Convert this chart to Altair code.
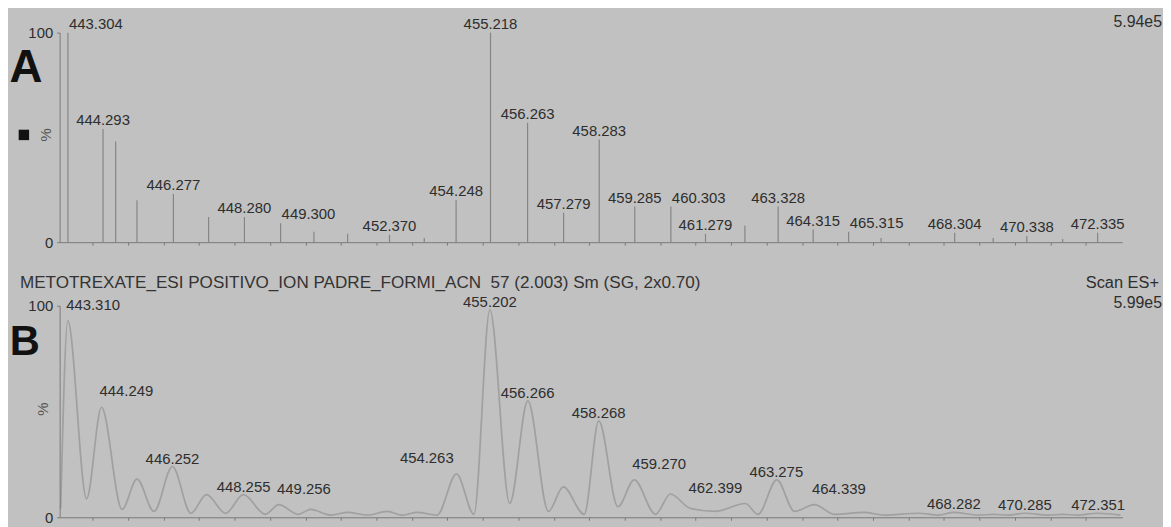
import altair as alt
import pandas as pd

# ---------------- data ----------------
# Panel A: centroid stick spectrum (m/z, relative intensity %)
a_mz = [443.304, 444.293, 444.65, 445.25, 446.277, 447.27, 448.280, 449.300, 450.24,
        451.19, 452.370, 453.35, 454.248, 455.218, 456.263, 457.279, 458.283, 459.285,
        460.303, 461.279, 462.39, 463.328, 464.315, 465.315, 466.23, 468.304, 469.39,
        470.338, 471.35, 472.335]
a_int = [100, 54, 48, 20, 23, 12, 12, 9, 5,
         4, 3.5, 2, 20, 100, 57, 14, 49, 17,
         17, 4, 8, 17, 6, 5, 2, 4.5, 2,
         3, 1.5, 4.5]
a_labels = ["443.304", "444.293", "", "", "446.277", "", "448.280", "449.300", "",
            "", "452.370", "", "454.248", "455.218", "456.263", "457.279", "458.283", "459.285",
            "460.303", "461.279", "", "463.328", "464.315", "465.315", "", "468.304", "",
            "470.338", "", "472.335"]
a_labels_right_of_peak = ["443.304", "449.300", "460.303", "465.315"]

# Panel B: smoothed profile spectrum (vertices read at peaks and valleys)
b_mz = [443.10, 443.30, 443.83, 444.25, 444.83, 445.25, 445.73, 446.25, 446.77, 447.21,
        447.75, 448.25, 448.87, 449.25, 449.79, 450.15, 450.71, 451.19, 451.75, 452.31,
        452.73, 453.15, 453.71, 454.26, 454.75, 455.20, 455.76, 456.27, 456.85, 457.27,
        457.86, 458.27, 458.81, 459.27, 459.87, 460.29, 460.85, 461.55, 462.40, 462.76,
        463.29, 463.79, 464.35, 464.91, 465.75, 466.31, 467.29, 467.85, 468.27, 468.97,
        469.39, 469.81, 470.29, 470.93, 471.35, 471.77, 472.33, 472.98]
b_int = [4, 93, 8.8, 52, 3.7, 18, 2.8, 24, 1.9, 10.7,
         1.9, 10.7, 1.4, 6, 1.4, 3.7, 1, 2.3, 1, 2.8,
         1, 2.3, 1, 20.5, 1.4, 98, 6.5, 55, 2.8, 14.4,
         1.4, 45.6, 5, 17.7, 1.4, 11, 4.2, 2.8, 6.5, 1.4,
         17.7, 2.8, 6, 1.4, 2.3, 1, 1.9, 1, 2.3, 1,
         1.4, 1, 1.9, 1, 1.4, 1, 1.9, 1]
b_label_mz = [443.310, 444.249, 446.252, 448.255, 449.256, 454.263, 455.202, 456.266,
              458.268, 459.270, 462.399, 463.275, 464.339, 468.282, 470.285, 472.351]
b_label_int = [93, 52, 24, 10.7, 6, 20.5, 98, 55,
               45.6, 17.7, 6.5, 17.7, 6, 2.3, 1.9, 1.9]
b_labels_right_of_peak = ["443.310", "444.249", "449.256", "459.270", "464.339"]
b_labels_left_of_peak = ["454.263", "462.399"]

y_ticks = [0, 100]
x_ticks = list(range(444, 473))
x_domain = [443.07, 473.03]

title_b = "METOTREXATE_ESI POSITIVO_ION PADRE_FORMI_ACN\u00a0\u00a057 (2.003) Sm (SG, 2x0.70)"

# ---------------- styling ----------------
BG = "#c1c1c1"
TXT = "#2e2e2e"
AX = "#7a7a7a"
STICK = "#858585"
CURVE = "#a0a0a0"
FONT = "Liberation Sans"
W = 1070
HA = 211
HB = 213
GAP = 64

xs = alt.Scale(domain=x_domain, nice=False, zero=False)
ys = alt.Scale(domain=[0, 100], nice=False)
xaxis = alt.Axis(values=x_ticks, labels=False, title=None, tickSize=3, tickColor=AX,
                 domainColor=AX, grid=False, zindex=1)
yaxis = alt.Axis(values=y_ticks, title=None, tickSize=3, tickColor=AX, domainColor=AX,
                 grid=False, labelFontSize=15, labelColor=TXT, labelFont=FONT,
                 labelPadding=4, zindex=1)

one = pd.DataFrame({"k": [0]})


def note(text, x, y, size, align="left", angle=0, weight="normal", color=TXT):
    return alt.Chart(one).mark_text(
        text=text, fontSize=size, align=align, baseline="middle", font=FONT,
        color=color, angle=angle, fontWeight=weight
    ).encode(x=alt.value(x), y=alt.value(y))


def pin(y0, y1):
    return alt.Chart(one).mark_rect(color=BG, opacity=0).encode(
        x=alt.value(-52), x2=alt.value(1111), y=alt.value(y0), y2=alt.value(y1))


# ---------------- panel A ----------------
dfa = pd.DataFrame({"mz": a_mz, "int": a_int, "lab": a_labels})
dfa_lab = dfa[dfa["lab"] != ""]
dfa_c = dfa_lab[~dfa_lab["lab"].isin(a_labels_right_of_peak)]
dfa_r = dfa_lab[dfa_lab["lab"].isin(a_labels_right_of_peak)]

X = alt.X("mz:Q", scale=xs, axis=xaxis)
Y = alt.Y("int:Q", scale=ys, axis=yaxis)

sticks = alt.Chart(dfa).mark_rule(color=STICK, strokeWidth=1.2).encode(
    x=X, y=Y, y2=alt.datum(0))
lab_a_c = alt.Chart(dfa_c).mark_text(
    fontSize=15, font=FONT, color=TXT, align="center", baseline="alphabetic", dy=-4
).encode(x=X, y=Y, text="lab:N")
lab_a_r = alt.Chart(dfa_r).mark_text(
    fontSize=15, font=FONT, color=TXT, align="left", baseline="alphabetic", dy=-4, dx=1
).encode(x=X, y=Y, text="lab:N")
square = alt.Chart(one).mark_square(size=110, color="#111111", opacity=1).encode(
    x=alt.value(-36), y=alt.value(103))

panel_a = alt.layer(
    pin(-23, HA + 30),
    sticks, lab_a_c, lab_a_r,
    note("A", -34, 36, 46, align="center", weight="bold", color="#111111"),
    note("%", -14, 103, 15, align="center", angle=270, color="#555555"),
    square,
    note("5.94e5", 1110, -11, 16, align="right"),
).properties(width=W, height=HA)

# ---------------- panel B ----------------
dfb = pd.DataFrame({"mz": b_mz, "int": b_int})
dfb_lab = pd.DataFrame({"mz": b_label_mz, "int": b_label_int,
                        "lab": [f"{v:.3f}" for v in b_label_mz]})
dfb_c = dfb_lab[~dfb_lab["lab"].isin(b_labels_right_of_peak + b_labels_left_of_peak)]
dfb_r = dfb_lab[dfb_lab["lab"].isin(b_labels_right_of_peak)]
dfb_l = dfb_lab[dfb_lab["lab"].isin(b_labels_left_of_peak)]

curve = alt.Chart(dfb).mark_line(color=CURVE, strokeWidth=1.7, interpolate="monotone").encode(
    x=X, y=Y)
lab_b_c = alt.Chart(dfb_c).mark_text(
    fontSize=15, font=FONT, color=TXT, align="center", baseline="alphabetic", dy=-3
).encode(x=X, y=Y, text="lab:N")
lab_b_r = alt.Chart(dfb_r).mark_text(
    fontSize=15, font=FONT, color=TXT, align="left", baseline="alphabetic", dy=-11, dx=-2
).encode(x=X, y=Y, text="lab:N")
lab_b_l = alt.Chart(dfb_l).mark_text(
    fontSize=15, font=FONT, color=TXT, align="right", baseline="alphabetic", dy=-11, dx=-3
).encode(x=X, y=Y, text="lab:N")

panel_b = alt.layer(
    pin(-GAP, HB + 8),
    curve, lab_b_c, lab_b_r, lab_b_l,
    note("B", -35, 37, 42, align="center", weight="bold", color="#111111"),
    note("%", -17, 104, 15, align="center", angle=270, color="#555555"),
    note(title_b, -40, -23, 17.2, align="left", color="#333333"),
    note("Scan ES+", 1107, -23, 16.5, align="right"),
    note("5.99e5", 1110, -3, 16, align="right"),
).properties(width=W, height=HB)

chart = alt.vconcat(panel_a, panel_b, spacing=GAP, bounds="flush").properties(
    padding=0, background=BG
).configure_view(stroke=None)

chart.save("out.html", embed_options={"renderer": "svg", "actions": False})
